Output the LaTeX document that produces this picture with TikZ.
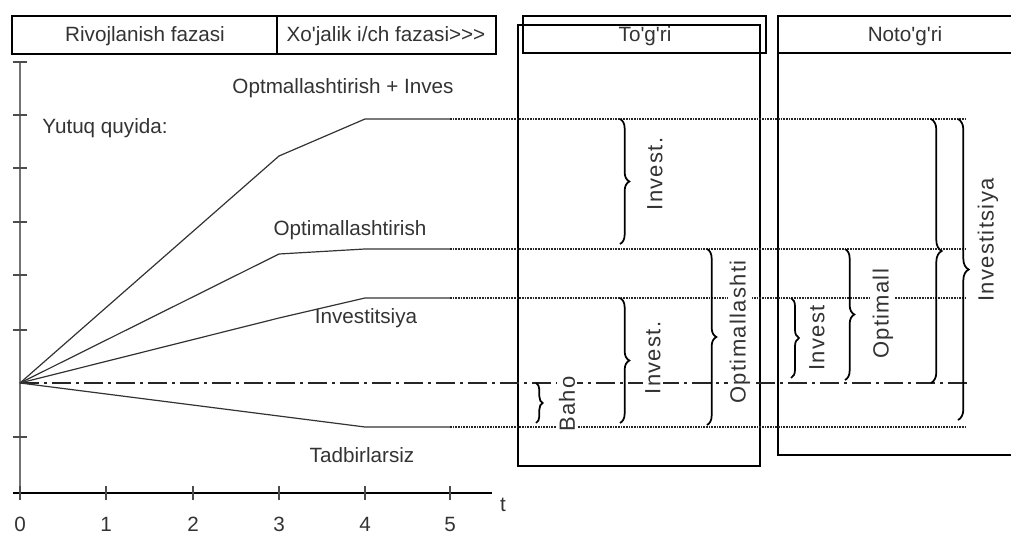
\documentclass[tikz,border=0pt]{standalone}
\usepackage{fontspec}
\setmainfont{Liberation Sans}
\usetikzlibrary{decorations.pathreplacing}
\begin{document}
\begin{tikzpicture}[x=0.75pt,y=-0.75pt,
  font=\fontsize{15.5}{18}\selectfont,
  lbl/.style={text=black!80, inner sep=0pt},
  vlbl/.style={text=black!80, inner sep=1.5pt, fill=white, rotate=90, font=\fontsize{16.5}{18}\selectfont\addfontfeature{LetterSpace=6}},
  frame/.style={draw=black, line width=1.6pt},
  curve/.style={draw=black!80, line width=0.9pt},
  dots/.style={draw=black!85, line width=0.8pt, dash pattern=on 1.2pt off 0.8pt},
  dashdot/.style={draw=black!85, line width=1pt, dash pattern=on 14pt off 4pt on 2pt off 4pt},
  brc/.style={draw=black, line width=1.3pt, decorate, decoration={brace, amplitude=7pt}},
  tick/.style={draw=black!70, line width=0.9pt}]
\useasboundingbox (0,0) rectangle (1011,545);
% header boxes
\draw[frame] (12,16) rectangle (496,54);
\draw[frame] (277,16) -- (277,54);
\node[lbl] (hdrA) at (145,36) {Rivojlanish fazasi};
\node[lbl] (hdrB) at (386,36) {Xo\textquotesingle jalik i/ch fazasi>{}>{}>};
% To'g'ri
\draw[frame] (518,25) rectangle (760,466);
\draw[frame] (523,16) rectangle (766,53);
\node[lbl] (togri) at (645,36) {To\textquotesingle g\textquotesingle ri};
% Noto'g'ri
\draw[frame] (1013,16) -- (778,16) -- (778,455) -- (1013,455);
\draw[frame] (778,53) -- (1013,53);
\node[lbl] (notogri) at (905,36) {Noto\textquotesingle g\textquotesingle ri};
% axes
\coordinate (O) at (20,383);
\coordinate (ytop) at (20,62);
\coordinate (ybot) at (20,500);
\coordinate (xl) at (13,493);
\coordinate (xr) at (492,493);
\draw[draw=black!55, line width=2pt] (ytop) -- (ybot);
\draw[draw=black, line width=1pt] (xl) -- (xr);
\foreach \yy in {62,115,168,222,275,330,437} \draw[tick] (13,\yy) -- (27,\yy);
\foreach \xx/\lab in {20/0,106/1,193/2,279/3,365/4,450/5} {
  \draw[tick] (\xx,486) -- (\xx,500);
  \node[lbl] (tl\lab) at (\xx,524) {\lab};
}
\node[lbl] (tlab) at (503,505) {t};
% reference lines
\coordinate (dend) at (967,383);
\draw[dashdot] (O) -- (dend);
% curves
\coordinate (a1) at (279,156); \coordinate (a2) at (365,119); \coordinate (a3) at (450,119); \coordinate (a4) at (967,119);
\coordinate (b1) at (279,254); \coordinate (b2) at (365,249); \coordinate (b3) at (450,249); \coordinate (b4) at (967,249);
\coordinate (c1) at (279,318); \coordinate (c2) at (365,298); \coordinate (c3) at (450,298); \coordinate (c4) at (967,298);
\coordinate (d2) at (365,427); \coordinate (d3) at (450,427); \coordinate (d4) at (967,427);
\draw[curve] (O) -- (a1) -- (a2) -- (a3);
\draw[curve] (O) -- (b1) -- (b2) -- (b3);
\draw[curve] (O) -- (c1) -- (c2) -- (c3);
\draw[curve] (O) -- (d2) -- (d3);
\draw[dots] (a3) -- (a4);
\draw[dots] (b3) -- (b4);
\draw[dots] (c3) -- (c4);
\draw[dots] (d3) -- (d4);
% curve labels
\node[lbl] (l1) at (343,88) {Optmallashtirish + Inves};
\node[lbl] (l2) at (105,128) {Yutuq quyida:};
\node[lbl] (l3) at (350,230) {Optimallashtirish};
\node[lbl] (l4) at (366,318) {Investitsiya};
\node[lbl] (l5) at (362,455) {Tadbirlarsiz};
% braces in To'g'ri
\draw[brc] (620,119) -- (620,244);
\node[vlbl] (bi1) at (655,174) {Invest.};
\draw[brc] (620,298) -- (620,423);
\node[vlbl] (bi2) at (653,358) {Invest.};
\draw[brc, decoration={brace, amplitude=5pt}] (536,383) -- (536,423);
\node[vlbl] (bb) at (567,404) {Baho};
\draw[brc] (707,249) -- (707,425);
\node[vlbl] (bo) at (740,332) {Optimallashti};
% braces in Noto'g'ri
\draw[brc, decoration={brace, amplitude=6pt}] (791,298) -- (791,378);
\node[vlbl] (ni) at (817,338) {Invest};
\draw[brc] (845,249) -- (845,380);
\node[vlbl] (no) at (883,314) {Optimall};
\draw[brc, decoration={brace, amplitude=8pt}] (931,119) -- (931,383);
\draw[brc, decoration={brace, amplitude=8pt}] (958,119) -- (958,420);
\node[vlbl] (nin) at (988,240) {Investitsiya};
\end{tikzpicture}
\end{document}
